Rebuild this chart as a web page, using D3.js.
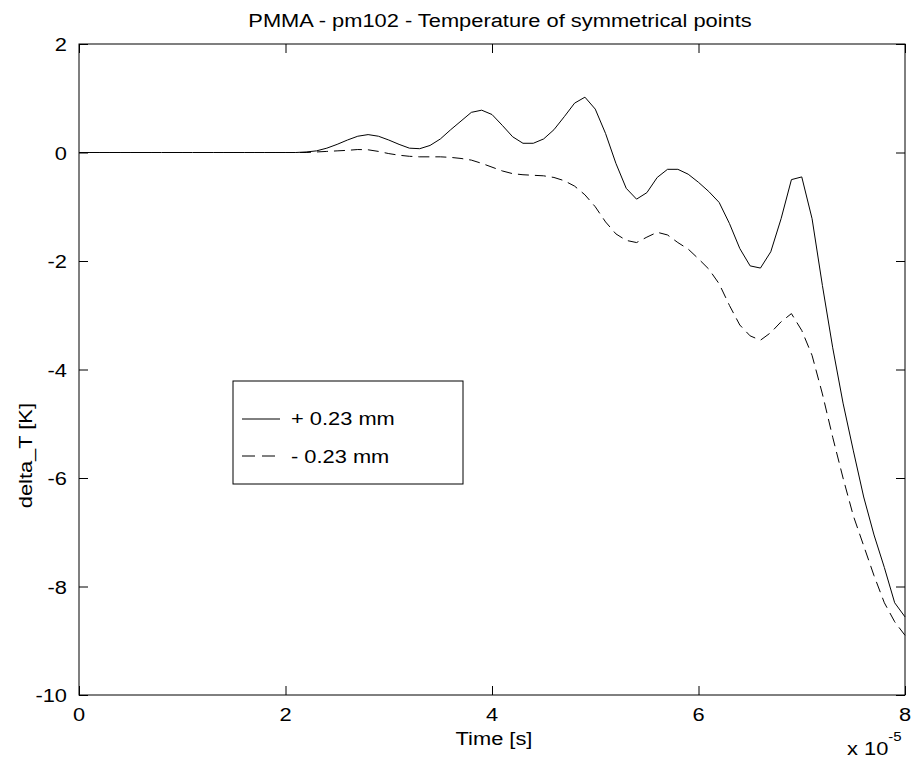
<!DOCTYPE html>
<html>
<head>
<meta charset="utf-8">
<script src="https://cdn.jsdelivr.net/npm/d3@7"></script>
<style>
  html, body { margin: 0; padding: 0; background: #fff; }
  svg text { font-family: "Liberation Sans", Arial, Helvetica, sans-serif; fill: #000; }
</style>
</head>
<body>
<svg id="chart" width="911" height="759"></svg>
<script>
// time in units of 1e-5 s
const timeValues = d3.range(0, 81).map(i => i / 10);

const plusSeries = [
  0, 0, 0, 0, 0, 0, 0, 0, 0, 0,
  0, 0, 0, 0, 0, 0, 0, 0, 0, 0,
  0, 0.00, 0.01, 0.03, 0.08, 0.15, 0.23, 0.30, 0.33, 0.30,
  0.23, 0.15, 0.08, 0.07, 0.13, 0.25, 0.42, 0.58, 0.74, 0.78,
  0.70, 0.50, 0.29, 0.17, 0.17, 0.25, 0.42, 0.66, 0.91, 1.02,
  0.80, 0.35, -0.20, -0.66, -0.86, -0.74, -0.46, -0.31, -0.31, -0.40,
  -0.55, -0.72, -0.92, -1.31, -1.77, -2.09, -2.13, -1.83, -1.22, -0.50,
  -0.45, -1.22, -2.45, -3.60, -4.62, -5.50, -6.35, -7.05, -7.65, -8.30,
  -8.56
];

const minusSeries = [
  0, 0, 0, 0, 0, 0, 0, 0, 0, 0,
  0, 0, 0, 0, 0, 0, 0, 0, 0, 0,
  0, 0, 0.00, 0.01, 0.02, 0.03, 0.04, 0.055, 0.05, 0.02,
  -0.02, -0.05, -0.07, -0.08, -0.08, -0.08, -0.09, -0.11, -0.14, -0.20,
  -0.27, -0.34, -0.39, -0.41, -0.42, -0.43, -0.46, -0.52, -0.62, -0.78,
  -1.00, -1.28, -1.50, -1.62, -1.66, -1.56, -1.47, -1.52, -1.66, -1.78,
  -1.96, -2.15, -2.42, -2.82, -3.18, -3.38, -3.46, -3.32, -3.12, -2.97,
  -3.28, -3.74, -4.45, -5.25, -6.00, -6.70, -7.25, -7.80, -8.30, -8.65,
  -8.90
];

const xTicks = [0, 2, 4, 6, 8];
const yTicks = [-10, -8, -6, -4, -2, 0, 2];
const seriesLabels = ["+ 0.23 mm", "- 0.23 mm"];
const titleText = "PMMA - pm102 - Temperature of symmetrical points";
const xLabelText = "Time [s]";
const yLabelText = "delta_T [K]";

const FS = 19, SX = 1.15;
const svg = d3.select("#chart");
const L = 79, R = 905, T = 44, B = 695;

const x = d3.scaleLinear().domain([0, 8]).range([L, R]);
const y = d3.scaleLinear().domain([-10, 2]).range([B, T]);

function addText(parent, px, py, str, anchor, rot, size) {
  const t = parent.append("text")
    .attr("transform", `translate(${px},${py})` + (rot ? ` rotate(${rot})` : "") + ` scale(${SX},1)`)
    .attr("text-anchor", anchor || "start")
    .attr("font-size", size || FS);
  if (str !== null) t.text(str);
  return t;
}

// frame
svg.append("rect").attr("x", L).attr("y", T).attr("width", R - L).attr("height", B - T)
  .attr("fill", "none").attr("stroke", "#000").attr("stroke-width", 1);

function styleAxis(g) {
  g.select(".domain").remove();
  g.selectAll(".tick line").attr("stroke", "#000").attr("stroke-width", 1);
  g.selectAll(".tick text").remove();
}

svg.append("g").attr("transform", `translate(0,${B})`)
  .call(d3.axisBottom(x).tickValues(xTicks).tickSize(-9).tickFormat(""))
  .call(styleAxis);
svg.append("g").attr("transform", `translate(0,${T})`)
  .call(d3.axisTop(x).tickValues(xTicks).tickSize(-9).tickFormat(""))
  .call(styleAxis);
svg.append("g").attr("transform", `translate(${L},0)`)
  .call(d3.axisLeft(y).tickValues(yTicks).tickSize(-9).tickFormat(""))
  .call(styleAxis);
svg.append("g").attr("transform", `translate(${R},0)`)
  .call(d3.axisRight(y).tickValues(yTicks).tickSize(-9).tickFormat(""))
  .call(styleAxis);

// tick labels
const tl = svg.append("g");
xTicks.forEach(v => addText(tl, x(v), 721, String(v), "middle"));
yTicks.forEach(v => addText(tl, 67, y(v) + 7, String(v), "end"));

const line = d3.line().x((d, i) => x(timeValues[i])).y(d => y(d));

svg.append("path").datum(plusSeries).attr("d", line)
  .attr("fill", "none").attr("stroke", "#000").attr("stroke-width", 1);
svg.append("path").datum(minusSeries).attr("d", line)
  .attr("fill", "none").attr("stroke", "#000").attr("stroke-width", 1)
  .attr("stroke-dasharray", "11,6");

// title & labels
addText(svg, 500, 27, titleText, "middle");
addText(svg, 494, 745, xLabelText, "middle");
addText(svg, 32, 403, yLabelText, "end", -90);

const mult = addText(svg, 847, 755, null, "start");
mult.append("tspan").text("x 10");
mult.append("tspan").attr("font-size", 13).attr("dy", -14).text("-5");

// legend
const lg = svg.append("g");
lg.append("rect").attr("x", 233).attr("y", 381).attr("width", 230).attr("height", 103)
  .attr("fill", "#fff").attr("stroke", "#000").attr("stroke-width", 1);
const rows = [{y: 419, dash: null, baseline: 425}, {y: 456, dash: "13,7", baseline: 463}];
rows.forEach((r, i) => {
  lg.append("line").attr("x1", 242).attr("x2", 280).attr("y1", r.y).attr("y2", r.y)
    .attr("stroke", "#000").attr("stroke-width", 1).attr("stroke-dasharray", r.dash);
  addText(lg, 291, r.baseline, seriesLabels[i], "start");
});
</script>
</body>
</html>
